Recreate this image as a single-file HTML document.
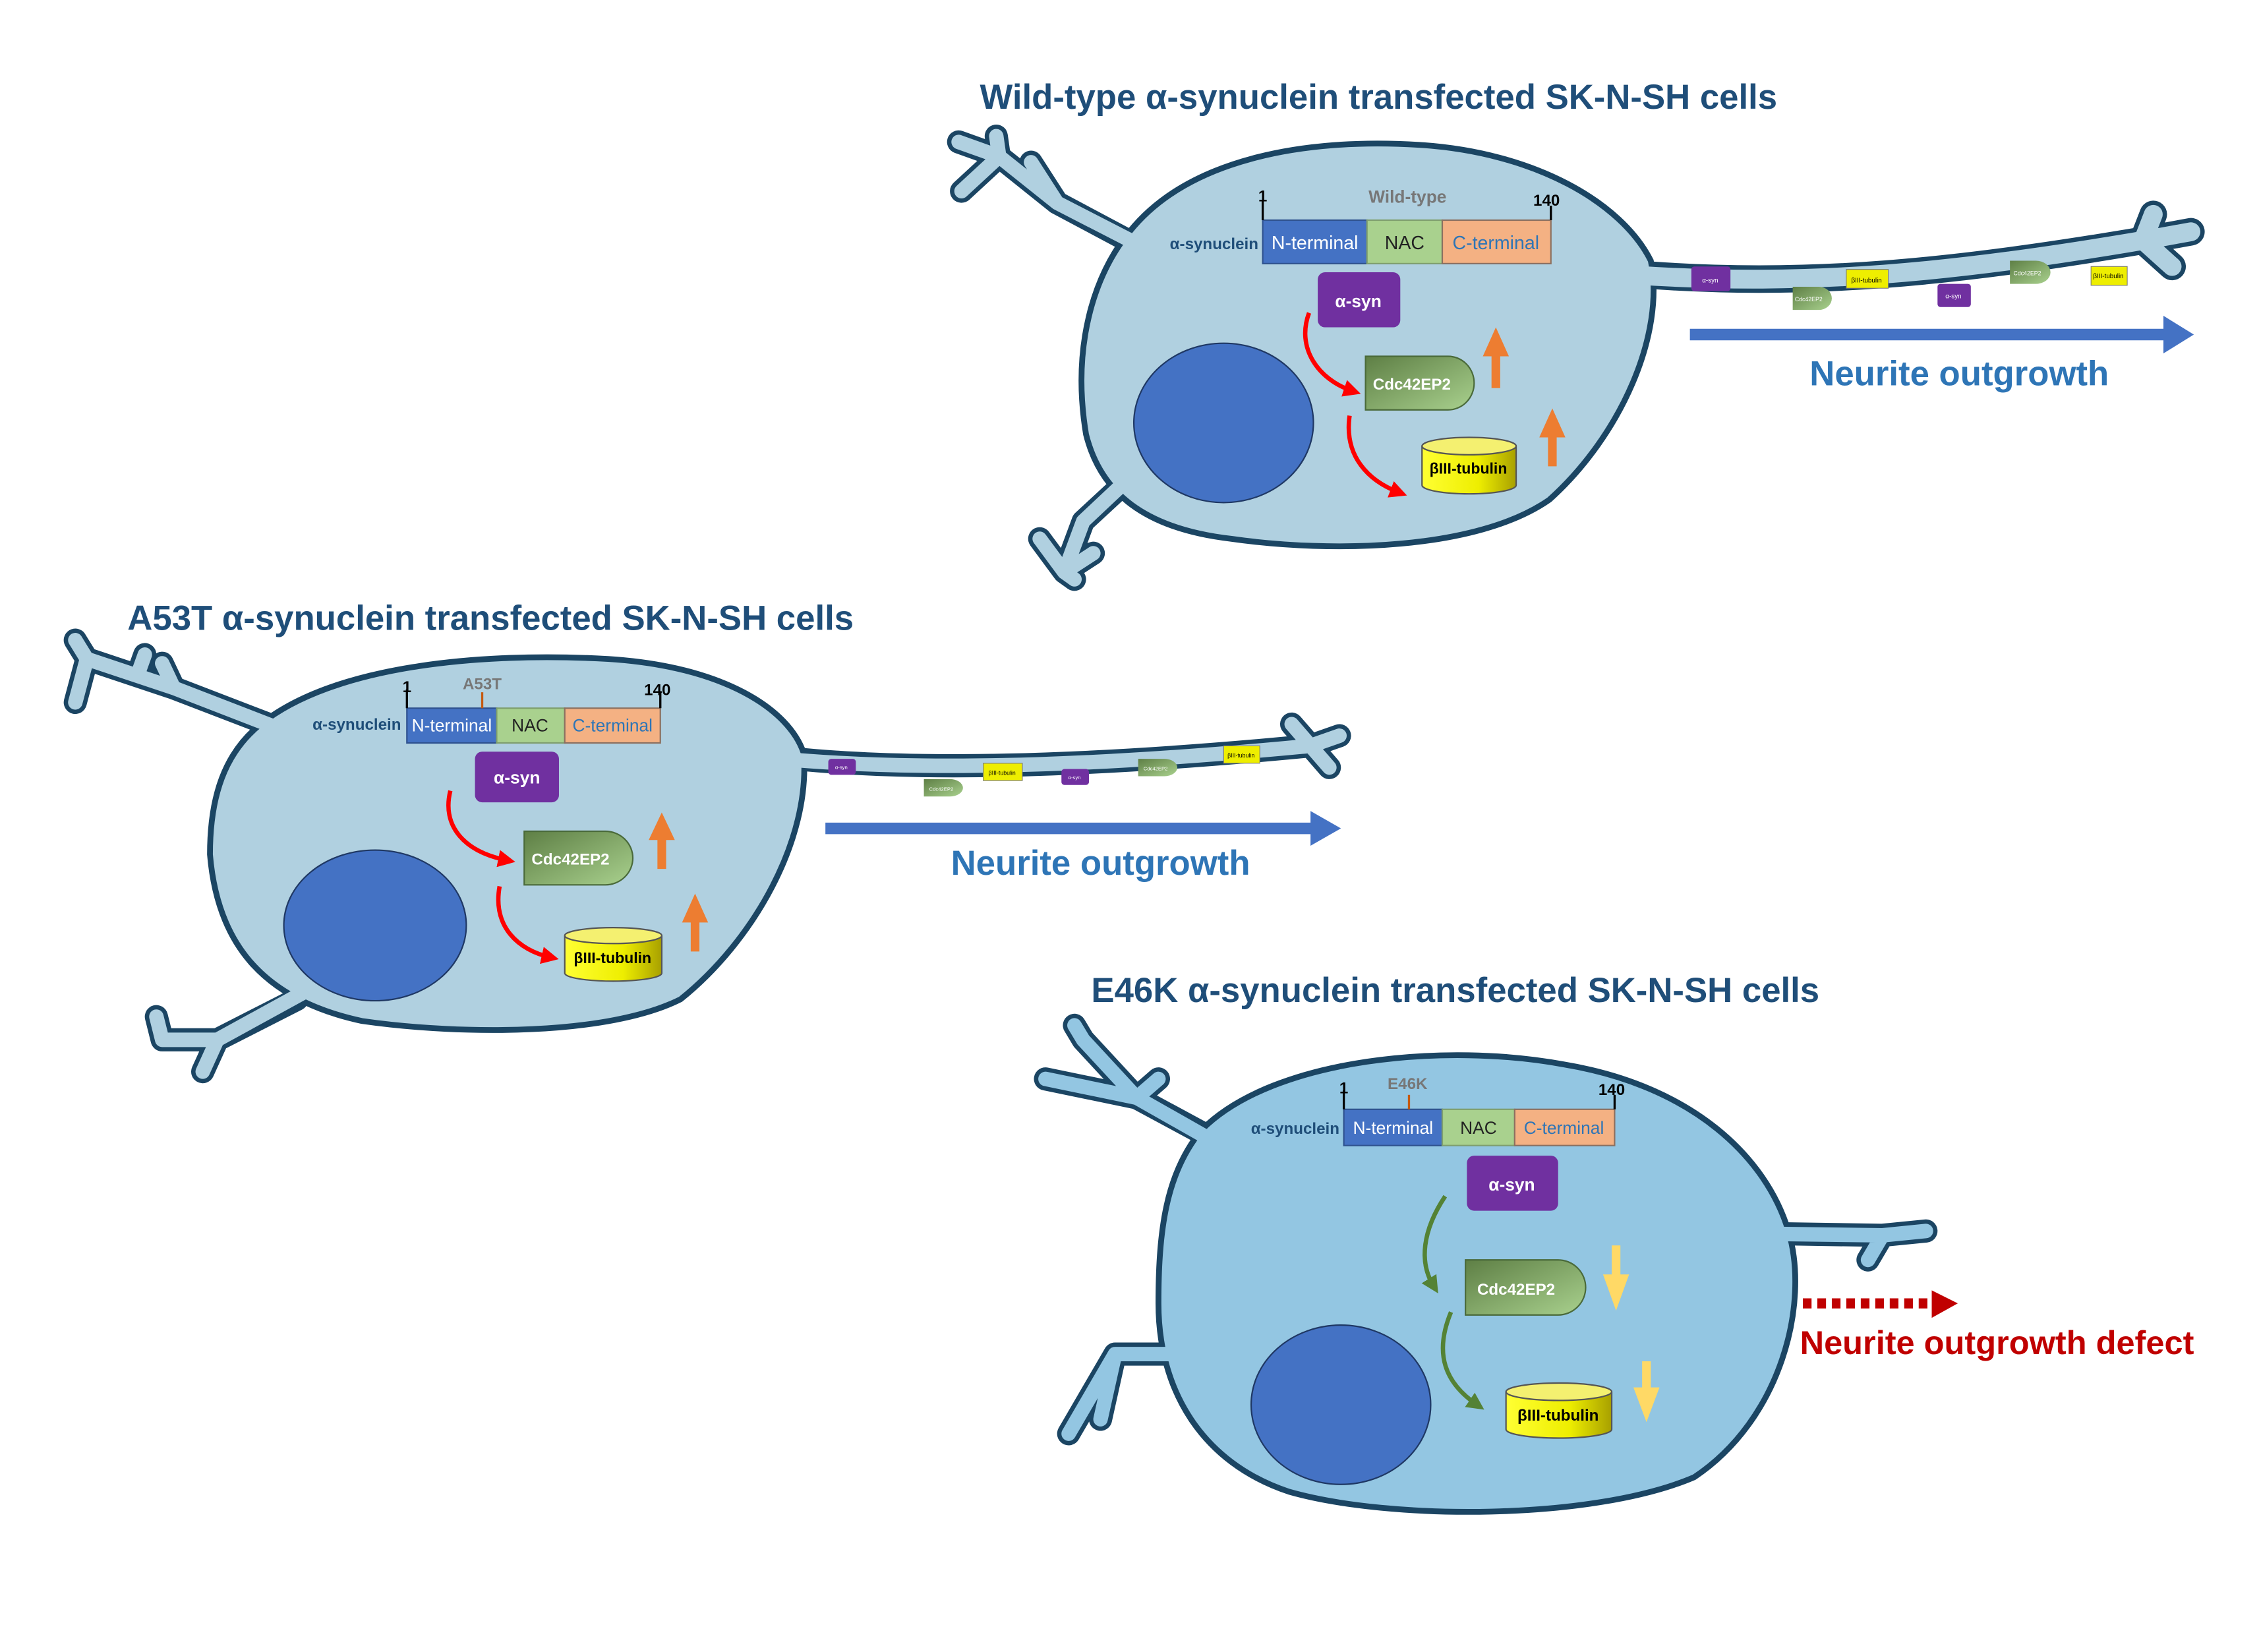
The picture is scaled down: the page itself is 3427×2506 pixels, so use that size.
<!DOCTYPE html>
<html><head><meta charset="utf-8"><style>
html,body{margin:0;padding:0;background:#fff;}
svg{display:block;}
text{font-family:"Liberation Sans",sans-serif;}
</style></head><body>
<svg width="3427" height="2506" viewBox="0 0 1560 1140.7" xmlns="http://www.w3.org/2000/svg">
<defs>
<linearGradient id="gc" x1="0" y1="0" x2="1" y2="1"><stop offset="0" stop-color="#5e7f45"/><stop offset="1" stop-color="#a9d18e"/></linearGradient>
<linearGradient id="gy" x1="0" y1="0" x2="1" y2="0"><stop offset="0" stop-color="#ffff33"/><stop offset="0.6" stop-color="#eeee00"/><stop offset="1" stop-color="#a8a000"/></linearGradient>
<marker id="mr" markerWidth="4" markerHeight="4" refX="2" refY="2" orient="auto"><path d="M0,0 L4,2 L0,4 Z" fill="#ff0000"/></marker>
<marker id="mg" markerWidth="4" markerHeight="4" refX="2" refY="2" orient="auto"><path d="M0,0 L4,2 L0,4 Z" fill="#548235"/></marker>
</defs>
<g font-weight="bold" fill="#1f4e79" font-size="24">
<text x="952" y="75" text-anchor="middle">Wild-type α-synuclein transfected SK-N-SH cells</text>
<text x="88" y="435">A53T α-synuclein transfected SK-N-SH cells</text>
<text x="1005" y="692" text-anchor="middle">E46K α-synuclein transfected SK-N-SH cells</text>
</g>

<!-- dendrite outlines -->
<g fill="none" stroke="#1b4563" stroke-width="16" stroke-linecap="round" stroke-linejoin="round">
<path d="M790,172 L730,140 L690,108 L662,98 M690,108 L688,94 M690,108 L664,132 M730,140 L712,112"/>
<path d="M775,335 L748,360 L735,395 L718,372 M735,395 L755,382 M735,395 L742,400"/>
<path d="M1140,190 C1250,198 1350,188 1480,166 L1487,148 M1480,166 L1513,160 M1480,166 L1500,184" stroke-width="19"/>
<path d="M185,500 L120,475 L60,455 L52,442 M60,455 L52,485 M95,466 L100,452 M120,475 L112,458"/>
<path d="M205,690 L150,718 L112,718 L108,702 M150,718 L140,740"/>
<path d="M550,524 C650,534 780,527 905,515 L892,500 M905,515 L925,508 M905,515 L918,530"/>
<path d="M835,785 L785,758 L748,718 L742,708 M785,758 L722,745 M785,758 L800,745"/>
<path d="M815,935 L770,935 L738,990 M770,935 L760,980"/>
<path d="M1235,852 L1300,853 L1330,850 M1300,853 L1290,870"/>
</g>
<!-- bodies -->
<g stroke="#1b4563" stroke-width="4">
<path fill="#b0d0e0" d="M780,160 C820,110 900,95 980,100 C1060,105 1120,140 1140,180 C1150,230 1120,300 1070,345 C1020,380 920,382 850,372 C790,365 760,340 750,300 C740,240 755,190 780,160 Z"/>
<path fill="#b0d0e0" d="M180,500 C230,460 330,450 420,455 C500,460 545,490 555,520 C560,580 520,650 470,690 C420,715 320,715 250,705 C180,690 150,650 145,590 C145,550 155,520 180,500 Z"/>
<path fill="#93c6e2" d="M830,780 C880,730 1000,720 1080,735 C1170,750 1220,800 1235,850 C1250,900 1230,980 1170,1020 C1100,1050 960,1050 890,1030 C830,1010 800,960 800,900 C800,850 805,810 830,780 Z"/>
</g>
<!-- dendrite fills -->
<g fill="none" stroke="#b0d0e0" stroke-width="10" stroke-linecap="round" stroke-linejoin="round">
<path d="M800,176 L730,140 L690,108 L662,98 M690,108 L688,94 M690,108 L664,132 M730,140 L712,112"/>
<path d="M782,328 L748,360 L735,395 L718,372 M735,395 L755,382 M735,395 L742,400"/>
<path d="M1130,190 C1250,198 1350,188 1480,166 L1487,148 M1480,166 L1513,160 M1480,166 L1500,184" stroke-width="13"/>
<path d="M195,504 L120,475 L60,455 L52,442 M60,455 L52,485 M95,466 L100,452 M120,475 L112,458"/>
<path d="M212,684 L150,718 L112,718 L108,702 M150,718 L140,740"/>
<path d="M540,524 C650,534 780,527 905,515 L892,500 M905,515 L925,508 M905,515 L918,530"/>
</g>
<g fill="none" stroke="#93c6e2" stroke-width="10" stroke-linecap="round" stroke-linejoin="round">
<path d="M845,792 L785,758 L748,718 L742,708 M785,758 L722,745 M785,758 L800,745"/>
<path d="M825,935 L770,935 L738,990 M770,935 L760,980"/>
<path d="M1225,852 L1300,853 L1330,850 M1300,853 L1290,870"/>
</g>

<!-- WT contents -->
<g>
<text x="869" y="172" text-anchor="end" font-size="11" font-weight="bold" fill="#1f4e79">α-synuclein</text>
<rect x="872" y="152" width="72" height="30" fill="#4472c4" stroke="#2f528f"/>
<rect x="944" y="152" width="52" height="30" fill="#a9d18e" stroke="#7f9f6e"/>
<rect x="996" y="152" width="75" height="30" fill="#f4b183" stroke="#8c7060"/>
<text x="908" y="172" text-anchor="middle" font-size="13" fill="#fff">N-terminal</text>
<text x="970" y="172" text-anchor="middle" font-size="13" fill="#222">NAC</text>
<text x="1033" y="172" text-anchor="middle" font-size="13" fill="#2e75b6">C-terminal</text>
<path d="M872,152 V138 M1071,152 V142" stroke="#000" stroke-width="1.5"/>
<text x="872" y="139" text-anchor="middle" font-size="11" font-weight="bold">1</text>
<text x="1068" y="142" text-anchor="middle" font-size="11" font-weight="bold">140</text>
<text x="972" y="140" text-anchor="middle" font-size="12" font-weight="bold" fill="#777">Wild-type</text>
<rect x="910" y="188" width="57" height="38" rx="5" fill="#7030a0"/>
<text x="938" y="212" text-anchor="middle" font-size="12" font-weight="bold" fill="#fff">α-syn</text>
<path d="M943,246 H1000 A18,18.5 0 0 1 1000,283 H943 Z" fill="url(#gc)" stroke="#4a6a3a"/>
<text x="975" y="269" text-anchor="middle" font-size="11" font-weight="bold" fill="#fff">Cdc42EP2</text>
<path d="M982,308 V335 A32.5,6 0 0 0 1047,335 V308" fill="url(#gy)" stroke="#555"/>
<ellipse cx="1014.5" cy="308" rx="32.5" ry="6" fill="#f4f070" stroke="#555"/>
<text x="1014" y="327" text-anchor="middle" font-size="10.5" font-weight="bold">βIII-tubulin</text>
<ellipse cx="845" cy="292" rx="62" ry="55" fill="#4472c4" stroke="#1f3864"/>
<path d="M904,216 C895,240 910,262 934,270" stroke="#f00" stroke-width="3" fill="none" marker-end="url(#mr)"/>
<path d="M932,287 C928,315 945,332 966,340" stroke="#f00" stroke-width="3" fill="none" marker-end="url(#mr)"/>
<path d="M1030,268 V246 H1024 L1033,226 L1042,246 H1036 V268 Z" fill="#ed7d31"/>
<path d="M1069,322 V302 H1063 L1072,282 L1081,302 H1075 V322 Z" fill="#ed7d31"/>
<rect x="1168" y="184" width="27" height="17" rx="2" fill="#7030a0"/><text x="1181" y="195" text-anchor="middle" font-size="4.5" fill="#fff">α-syn</text>
<path d="M1238,198 H1256 A9,8 0 0 1 1256,214 H1238 Z" fill="url(#gc)"/><text x="1249" y="208" text-anchor="middle" font-size="4" fill="#fff">Cdc42EP2</text>
<rect x="1275" y="186" width="29" height="13" fill="#eeee00" stroke="#777" stroke-width="0.5"/><text x="1289" y="195" text-anchor="middle" font-size="4.5">βIII-tubulin</text>
<rect x="1338" y="196" width="23" height="16" rx="2" fill="#7030a0"/><text x="1349" y="206" text-anchor="middle" font-size="4.5" fill="#fff">α-syn</text>
<path d="M1388,180 H1406 A10,8 0 0 1 1406,196 H1388 Z" fill="url(#gc)"/><text x="1400" y="190" text-anchor="middle" font-size="4" fill="#fff">Cdc42EP2</text>
<rect x="1444" y="184" width="25" height="13" fill="#eeee00" stroke="#777" stroke-width="0.5"/><text x="1456" y="192" text-anchor="middle" font-size="4.5">βIII-tubulin</text>
<path d="M1167,227 H1494 V218 L1515,231 L1494,244 V235 H1167 Z" fill="#4472c4"/>
<text x="1353" y="266" text-anchor="middle" font-size="24" font-weight="bold" fill="#2e75b6">Neurite outgrowth</text>
</g>

<!-- A53T contents -->
<g>
<text x="277" y="504" text-anchor="end" font-size="11" font-weight="bold" fill="#1f4e79">α-synuclein</text>
<rect x="281" y="489" width="62" height="24" fill="#4472c4" stroke="#2f528f"/>
<rect x="343" y="489" width="47" height="24" fill="#a9d18e" stroke="#7f9f6e"/>
<rect x="390" y="489" width="66" height="24" fill="#f4b183" stroke="#8c7060"/>
<text x="312" y="505" text-anchor="middle" font-size="12" fill="#fff">N-terminal</text>
<text x="366" y="505" text-anchor="middle" font-size="12" fill="#222">NAC</text>
<text x="423" y="505" text-anchor="middle" font-size="12" fill="#2e75b6">C-terminal</text>
<path d="M281,489 V476 M456,489 V478" stroke="#000" stroke-width="1.5"/>
<path d="M333,489 V478" stroke="#c55a11" stroke-width="1.5"/>
<text x="281" y="478" text-anchor="middle" font-size="11" font-weight="bold">1</text>
<text x="454" y="480" text-anchor="middle" font-size="11" font-weight="bold">140</text>
<text x="333" y="476" text-anchor="middle" font-size="11" font-weight="bold" fill="#777">A53T</text>
<rect x="328" y="519" width="58" height="35" rx="5" fill="#7030a0"/>
<text x="357" y="541" text-anchor="middle" font-size="12" font-weight="bold" fill="#fff">α-syn</text>
<path d="M362,574 H418 A19,18.5 0 0 1 418,611 H362 Z" fill="url(#gc)" stroke="#4a6a3a"/>
<text x="394" y="597" text-anchor="middle" font-size="11" font-weight="bold" fill="#fff">Cdc42EP2</text>
<path d="M390,646 V672 A33.5,5.5 0 0 0 457,672 V646" fill="url(#gy)" stroke="#555"/>
<ellipse cx="423.5" cy="646" rx="33.5" ry="5.5" fill="#f4f070" stroke="#555"/>
<text x="423" y="665" text-anchor="middle" font-size="10.5" font-weight="bold">βIII-tubulin</text>
<ellipse cx="259" cy="639" rx="63" ry="52" fill="#4472c4" stroke="#1f3864"/>
<path d="M311,546 C305,570 320,588 350,594" stroke="#f00" stroke-width="3" fill="none" marker-end="url(#mr)"/>
<path d="M345,612 C340,640 358,656 380,661" stroke="#f00" stroke-width="3" fill="none" marker-end="url(#mr)"/>
<path d="M454,600 V580 H448 L457,561 L466,580 H460 V600 Z" fill="#ed7d31"/>
<path d="M477,657 V637 H471 L480,617 L489,637 H483 V657 Z" fill="#ed7d31"/>
<rect x="572" y="524" width="19" height="11" rx="2" fill="#7030a0"/><text x="581" y="531" text-anchor="middle" font-size="3.5" fill="#fff">α-syn</text>
<path d="M638,538 H656 A9,6 0 0 1 656,550 H638 Z" fill="url(#gc)"/><text x="650" y="546" text-anchor="middle" font-size="3.5" fill="#fff">Cdc42EP2</text>
<rect x="679" y="527" width="27" height="12" fill="#eeee00" stroke="#777" stroke-width="0.5"/><text x="692" y="535" text-anchor="middle" font-size="4">βIII-tubulin</text>
<rect x="733" y="531" width="19" height="11" rx="2" fill="#7030a0"/><text x="742" y="538" text-anchor="middle" font-size="3.5" fill="#fff">α-syn</text>
<path d="M786,524 H804 A9,6 0 0 1 804,536 H786 Z" fill="url(#gc)"/><text x="798" y="532" text-anchor="middle" font-size="3.5" fill="#fff">Cdc42EP2</text>
<rect x="845" y="515" width="25" height="12" fill="#eeee00" stroke="#777" stroke-width="0.5"/><text x="857" y="523" text-anchor="middle" font-size="4">βIII-tubulin</text>
<path d="M570,568 H905 V560 L926,572 L905,584 V576 H570 Z" fill="#4472c4"/>
<text x="760" y="604" text-anchor="middle" font-size="24" font-weight="bold" fill="#2e75b6">Neurite outgrowth</text>
</g>

<!-- E46K contents -->
<g>
<text x="925" y="783" text-anchor="end" font-size="11" font-weight="bold" fill="#1f4e79">α-synuclein</text>
<rect x="928" y="766" width="68" height="25" fill="#4472c4" stroke="#2f528f"/>
<rect x="996" y="766" width="50" height="25" fill="#a9d18e" stroke="#7f9f6e"/>
<rect x="1046" y="766" width="69" height="25" fill="#f4b183" stroke="#8c7060"/>
<text x="962" y="783" text-anchor="middle" font-size="12" fill="#fff">N-terminal</text>
<text x="1021" y="783" text-anchor="middle" font-size="12" fill="#222">NAC</text>
<text x="1080" y="783" text-anchor="middle" font-size="12" fill="#2e75b6">C-terminal</text>
<path d="M928,766 V753 M1115,766 V756" stroke="#000" stroke-width="1.5"/>
<path d="M973,766 V756" stroke="#c55a11" stroke-width="1.5"/>
<text x="928" y="755" text-anchor="middle" font-size="11" font-weight="bold">1</text>
<text x="1113" y="756" text-anchor="middle" font-size="11" font-weight="bold">140</text>
<text x="972" y="752" text-anchor="middle" font-size="11" font-weight="bold" fill="#777">E46K</text>
<rect x="1013" y="798" width="63" height="38" rx="5" fill="#7030a0"/>
<text x="1044" y="822" text-anchor="middle" font-size="12" font-weight="bold" fill="#fff">α-syn</text>
<path d="M1012,870 H1076 A19,19 0 0 1 1076,908 H1012 Z" fill="url(#gc)" stroke="#4a6a3a"/>
<text x="1047" y="894" text-anchor="middle" font-size="11" font-weight="bold" fill="#fff">Cdc42EP2</text>
<path d="M1040,961 V987 A36.5,6 0 0 0 1113,987 V961" fill="url(#gy)" stroke="#555"/>
<ellipse cx="1076.5" cy="961" rx="36.5" ry="6" fill="#f4f070" stroke="#555"/>
<text x="1076" y="981" text-anchor="middle" font-size="11" font-weight="bold">βIII-tubulin</text>
<ellipse cx="926" cy="970" rx="62" ry="55" fill="#4472c4" stroke="#1f3864"/>
<path d="M998,826 C982,850 980,872 990,888" stroke="#548235" stroke-width="3" fill="none" marker-end="url(#mg)"/>
<path d="M1002,906 C990,935 998,955 1020,970" stroke="#548235" stroke-width="3" fill="none" marker-end="url(#mg)"/>
<path d="M1113,860 V880 H1107 L1116,905 L1125,880 H1119 V860 Z" fill="#ffd966"/>
<path d="M1134,940 V958 H1128 L1137,982 L1146,958 H1140 V940 Z" fill="#ffd966"/>
<path d="M1245,900 H1335" stroke="#c00000" stroke-width="7" stroke-dasharray="6,4"/>
<path d="M1334,891 L1352,900 L1334,910 Z" fill="#c00000"/>
<text x="1243" y="935" font-size="23" font-weight="bold" fill="#c00000">Neurite outgrowth defect</text>
</g>
</svg>
</body></html>
